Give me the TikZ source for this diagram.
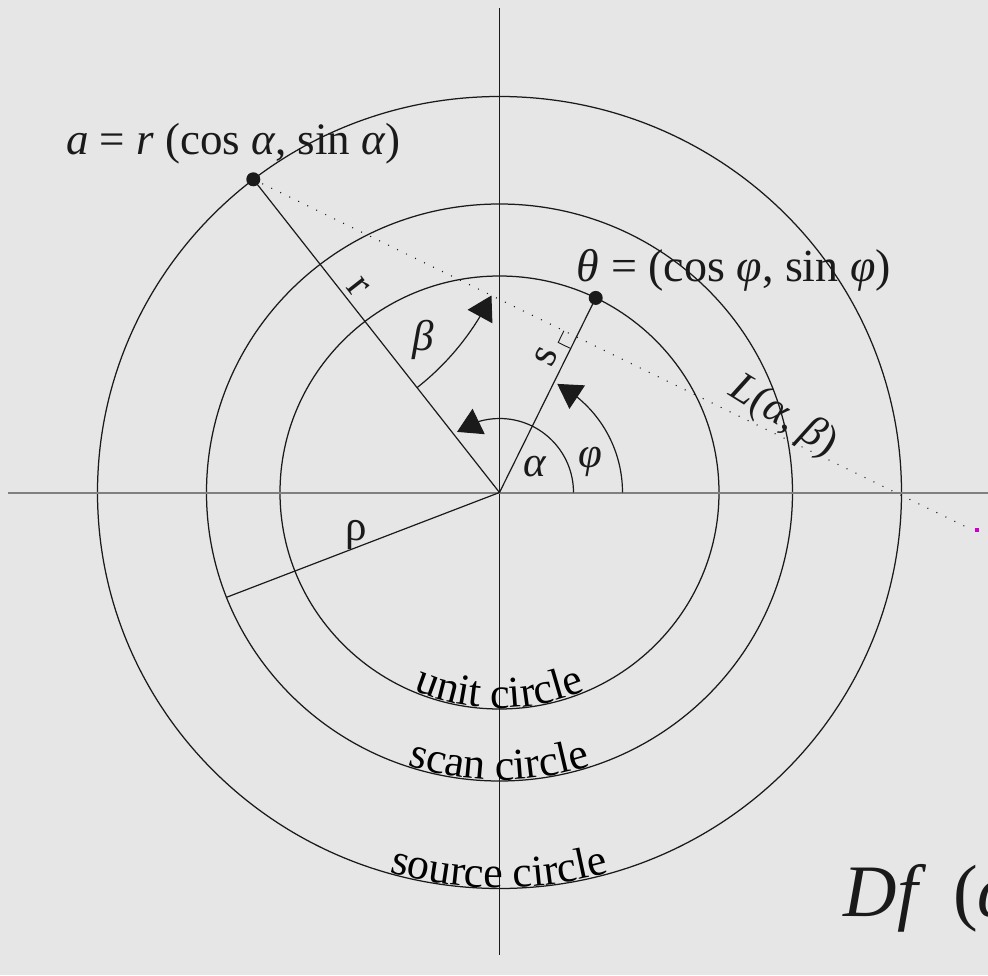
\documentclass[tikz,border=0pt]{standalone}
\usepackage{fontspec}
\setmainfont{Liberation Serif}
\usetikzlibrary{calc,arrows.meta,bending,decorations.text}
\definecolor{bg}{HTML}{E6E6E6}
\definecolor{ink}{HTML}{1A1A1A}
\definecolor{axisgray}{HTML}{808080}
\definecolor{mag}{HTML}{CC00CC}
\newcommand\curvefont{\fontsize{44}{50}\selectfont}
\begin{document}
\begin{tikzpicture}[x=1pt,y=1pt,
  circ/.style={draw=ink,line width=1.25pt},
  ray/.style={draw=ink,line width=1.2pt},
  angarc/.style={draw=ink,line width=1.2pt,-{Triangle[length=24pt,width=28pt,flex]}},
  lbl/.style={text=ink,inner sep=0pt,font=\fontsize{43}{48}\selectfont},
  dotpt/.style={circle,fill=ink,inner sep=0pt,minimum size=14pt},
  curvetext/.style={decorate,decoration={text along path,text align=center,raise=1pt,text={|\curvefont|#1}}}
  ]
\fill[bg] (-499.5,-482.5) rectangle (488.5,492.5);
\useasboundingbox (-499.5,-482.5) rectangle (488.5,492.5);
\coordinate (O) at (0,0);
% circles
\draw[circ] (O) ellipse[x radius=219.5, y radius=216.5];
\draw[circ] (O) ellipse[x radius=293, y radius=288.5];
\draw[circ] (O) ellipse[x radius=402, y radius=396];
% axes
\coordinate (YT) at (0,484.5);
\coordinate (YB) at (0,-462.5);
\draw[ink,line width=1.2pt] (YT) -- (YB);
\coordinate (XL) at (-491.5,0);
\coordinate (XR) at (488.5,0);
\draw[axisgray,line width=2pt] (XL) -- (XR);
% points
\coordinate (A) at (-246.2,313.2);
\coordinate (E) at (466.8,-34.5);
\coordinate (M) at (477.2,-37.5);
\coordinate (F) at ($(A)!(O)!(E)$);
\coordinate (T) at (64:219.5pt and 216.5pt);
\coordinate (P) at (201.3:293pt and 288.5pt);
% line L (dotted)
\draw[ink,line width=1.1pt,dash pattern=on 1pt off 9pt] (A) -- (E);
\fill[mag] ($(M)+(-2,-2)$) rectangle ($(M)+(2,2)$);
% rays
\draw[ray] (A) -- (O);
\draw[ray] (O) -- (T);
\draw[ray] (O) -- (P);
% right angle mark
\draw[ink,line width=0.9pt,shift={(F)},rotate=64] (-13,0) -- (-13,13) -- (0,13);
% angle arcs
\draw[angarc] (74,0) arc[start angle=0,end angle=125,radius=74];
\draw[angarc] (123,0) arc[start angle=0,end angle=62,radius=123];
\draw[angarc] ($(A)+(-51.8:265)$) arc[start angle=-51.8,end angle=-26,radius=265];
% dots
\node[dotpt] (adot) at (A) {};
\node[dotpt] (tdot) at (T) {};
% labels
\node[lbl,anchor=base,font=\fontsize{45}{50}\selectfont] (alab) at (-266,337.5) {\textit{a} = \textit{r} (cos \textit{α}, sin \textit{α})};
\node[lbl,anchor=base,font=\fontsize{46}{52}\selectfont] (tlab) at (234.5,210.8) {\textit{θ} = (cos \textit{φ}, sin \textit{φ})};
\node[lbl,rotate=-32] (llab) at (283.8,75.8) {\textit{L}(\textit{α}, \textit{β})};
\node[lbl] (rholab) at (-142.8,-42.5) {ρ};
\node[lbl] (alphalab) at (35.5,25.8) {\textit{α}};
\node[lbl] (philab) at (90.5,30.8) {\textit{φ}};
\node[lbl] (betalab) at (-76.2,152.5) {\textit{β}};
\node[lbl,rotate=-52] (rlab) at (-141.2,205.8) {r};
\node[lbl,rotate=64] (slab) at (47.2,135.8) {s};
% curved labels
\path[curvetext={unit circle}] (200:219.5pt and 216.5pt) arc[start angle=200,end angle=340,x radius=219.5,y radius=216.5];
\path[curvetext={scan circle}] (200:293pt and 288.5pt) arc[start angle=200,end angle=340,x radius=293,y radius=288.5];
\path[curvetext={source circle}] (220:402pt and 396pt) arc[start angle=220,end angle=320,x radius=402,y radius=396];
% Df
\node[anchor=base west,inner sep=0pt,text=ink,font=\fontsize{74}{80}\selectfont] (df) at (344,-424.2) {\textit{Df}\hspace{27pt}(\textit{α}};
\end{tikzpicture}
\end{document}
